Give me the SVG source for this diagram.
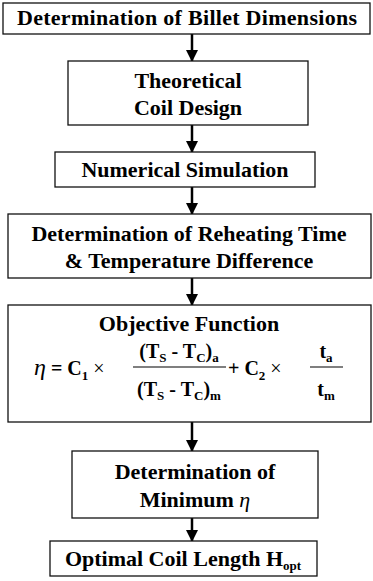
<svg xmlns="http://www.w3.org/2000/svg" width="373" height="581" viewBox="0 0 373 581">
<defs>
<marker id="ah" markerWidth="12" markerHeight="12" refX="11" refY="6" orient="auto" markerUnits="userSpaceOnUse">
<path d="M0,0 L12,6 L0,12 Z" fill="#000"/>
</marker>
<style>
.box{fill:#fff;stroke:#111;stroke-width:1.3}
.t{font-weight:bold;font-size:22px;fill:#000;text-anchor:middle}
.f{font-weight:bold;font-size:20px;fill:#000}
.sub{font-size:13px}
.c{stroke:#000;stroke-width:2.5;fill:none}
.fl{stroke:#000;stroke-width:1.2}
</style>
</defs>
<rect width="373" height="581" fill="#fff"/>
<g id="connectors">
<line class="c" x1="192" y1="34" x2="192" y2="61" marker-end="url(#ah)"/>
<line class="c" x1="192" y1="125" x2="192" y2="152" marker-end="url(#ah)"/>
<line class="c" x1="192" y1="187" x2="192" y2="214" marker-end="url(#ah)"/>
<line class="c" x1="192" y1="278" x2="192" y2="305" marker-end="url(#ah)"/>
<line class="c" x1="192" y1="422" x2="192" y2="451" marker-end="url(#ah)"/>
<line class="c" x1="192" y1="518" x2="192" y2="541" marker-end="url(#ah)"/>
</g>
<g font-family="'Liberation Serif', 'Times New Roman', serif">
<g id="billet">
<rect class="box" x="3" y="3" width="367" height="31"/>
<text class="t" x="187" y="25" textLength="340" lengthAdjust="spacing">Determination of Billet Dimensions</text>
</g>
<g id="coil-design">
<rect class="box" x="68" y="61" width="240" height="64"/>
<text class="t" x="188" y="88">Theoretical</text>
<text class="t" x="188" y="115">Coil Design</text>
</g>
<g id="simulation">
<rect class="box" x="55" y="152" width="260" height="35"/>
<text class="t" x="185" y="177">Numerical Simulation</text>
</g>
<g id="reheating">
<rect class="box" x="8" y="214" width="363" height="64"/>
<text class="t" x="189" y="241">Determination of Reheating Time</text>
<text class="t" x="189" y="268">&amp; Temperature Difference</text>
</g>
<g id="objective">
<rect class="box" x="8" y="305" width="363" height="117"/>
<text class="t" x="189" y="331">Objective Function</text>
<text class="f" x="34" y="375"><tspan font-style="italic" font-weight="normal" font-size="24">η</tspan> = C<tspan class="sub" dy="5">1</tspan><tspan dy="-5" font-weight="normal"> ×</tspan></text>
<text class="f" x="179" y="358" text-anchor="middle">(T<tspan class="sub" dy="4">S</tspan><tspan dy="-4"> - T</tspan><tspan class="sub" dy="4">C</tspan><tspan dy="-4">)</tspan><tspan class="sub" dy="4">a</tspan></text>
<line class="fl" x1="133" y1="367" x2="226" y2="367"/>
<text class="f" x="179" y="396" text-anchor="middle">(T<tspan class="sub" dy="4">S</tspan><tspan dy="-4"> - T</tspan><tspan class="sub" dy="4">C</tspan><tspan dy="-4">)</tspan><tspan class="sub" dy="4">m</tspan></text>
<text class="f" x="228" y="375">+ C<tspan class="sub" dy="5">2</tspan><tspan dy="-5" font-weight="normal"> ×</tspan></text>
<text class="f" x="326" y="358" text-anchor="middle">t<tspan class="sub" dy="4">a</tspan></text>
<line class="fl" x1="310" y1="367" x2="343" y2="367"/>
<text class="f" x="326" y="396" text-anchor="middle">t<tspan class="sub" dy="4">m</tspan></text>
</g>
<g id="minimum">
<rect class="box" x="72" y="451" width="246" height="67"/>
<text class="t" x="195" y="479">Determination of</text>
<text class="t" x="195" y="507">Minimum  <tspan font-style="italic" font-weight="normal">η</tspan></text>
</g>
<g id="optimal">
<rect class="box" x="50" y="541" width="267" height="35"/>
<text class="t" x="183" y="566">Optimal Coil Length H<tspan class="sub" dy="4">opt</tspan></text>
</g>
</g>
</svg>
